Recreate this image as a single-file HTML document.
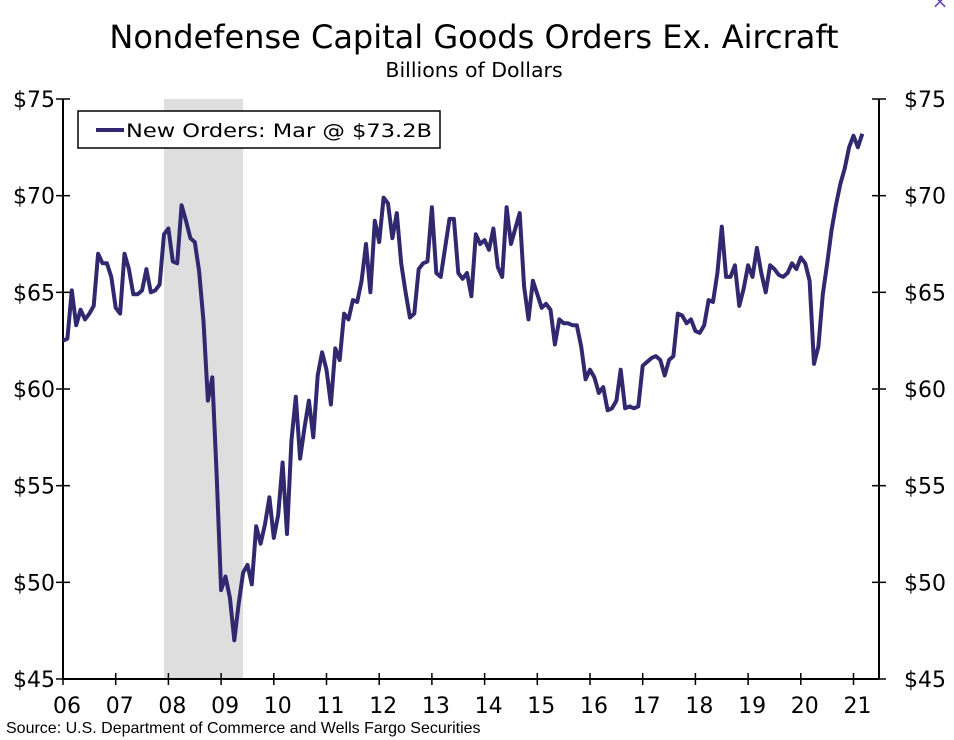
<!DOCTYPE html>
<html><head><meta charset="utf-8"><style>
body{margin:0;background:#fff;width:954px;height:740px;overflow:hidden;font-family:"DejaVu Sans","Liberation Sans",sans-serif;}
svg{display:block}
</style></head><body>
<svg width="954" height="740" id="chart">
<text x="474" y="48" text-anchor="middle" font-size="32" fill="#000">Nondefense Capital Goods Orders Ex. Aircraft</text>
<text x="474" y="77" text-anchor="middle" font-size="20.5" fill="#000">Billions of Dollars</text>
<text x="940" y="8" text-anchor="middle" font-size="20" fill="#6a4fb0">×</text>
<g id="plot"></g>
<text x="6" y="733" font-family="Liberation Sans, sans-serif" font-size="16" fill="#000">Source: U.S. Department of Commerce and Wells Fargo Securities</text>
</svg>
<script>
const years=["06","07","08","09","10","11","12","13","14","15","16","17","18","19","20","21"];
const yTicks=[45,50,55,60,65,70,75];
const orders=[
62.5,62.6,65.1,63.3,64.1,63.6,63.9,64.3,67.0,66.5,66.5,65.8,
64.2,63.9,67.0,66.2,64.9,64.9,65.1,66.2,65.0,65.1,65.4,68.0,
68.3,66.6,66.5,69.5,68.7,67.8,67.6,66.1,63.5,59.4,60.6,55.5,
49.6,50.3,49.2,47.0,48.9,50.5,50.9,49.9,52.9,52.0,53.0,54.4,
52.3,53.5,56.2,52.5,57.3,59.6,56.4,58.0,59.4,57.5,60.7,61.9,
61.0,59.2,62.1,61.5,63.9,63.6,64.6,64.5,65.6,67.5,65.0,68.7,
67.6,69.9,69.6,67.8,69.1,66.5,65.0,63.7,63.9,66.2,66.5,66.6,
69.4,66.0,65.8,67.3,68.8,68.8,66.0,65.7,66.0,64.8,68.0,67.5,
67.7,67.2,68.3,66.3,65.8,69.4,67.5,68.3,69.1,65.3,63.6,65.6,
64.9,64.2,64.4,64.1,62.3,63.6,63.4,63.4,63.3,63.3,62.2,60.5,
61.0,60.6,59.8,60.1,58.9,59.0,59.4,61.0,59.0,59.1,59.0,59.1,
61.2,61.4,61.6,61.7,61.5,60.7,61.5,61.7,63.9,63.8,63.4,63.6,
63.0,62.9,63.3,64.6,64.5,66.0,68.4,65.8,65.8,66.4,64.3,65.2,
66.4,65.8,67.3,66.0,65.0,66.4,66.2,65.9,65.8,66.0,66.5,66.2,
66.8,66.5,65.6,61.3,62.2,64.9,66.5,68.2,69.5,70.6,71.4,72.5,
73.1,72.5,73.2];
const recession=[23,41];
const L=63,R=879,T=99,B=679,YS=52.7;
const xm=i=>L+i*YS/12;
const yv=v=>B-(v-45)*(B-T)/30;
const NS='http://www.w3.org/2000/svg';
const g=document.getElementById('plot');
function mk(t,a){const e=document.createElementNS(NS,t);for(const k in a)e.setAttribute(k,a[k]);g.appendChild(e);return e;}
let r=mk('rect',{x:xm(recession[0]),y:T,width:xm(recession[1])-xm(recession[0]),height:B-T,fill:'#dedede'});


let a1=mk('line',{x1:L,y1:T,x2:L,y2:B,stroke:'#000','stroke-width':2});


let a2=mk('line',{x1:R,y1:T,x2:R,y2:B,stroke:'#000','stroke-width':2});


let a3=mk('line',{x1:L,y1:B,x2:R,y2:B,stroke:'#000','stroke-width':2});


yTicks.forEach(v=>{
 const y=yv(v);
 let t1=mk('line',{x1:L-7,y1:y,x2:L+7,y2:y,stroke:'#000','stroke-width':1.5});
 
 
 let t2=mk('line',{x1:R-7,y1:y,x2:R+7,y2:y,stroke:'#000','stroke-width':1.5});
 
 
 let l1=mk('text',{x:55,y:y+8,'text-anchor':'end','font-size':22,fill:'#000'});l1.textContent='$'+v;
 
 
 let l2=mk('text',{x:904,y:y+8,'font-size':22,fill:'#000'});l2.textContent='$'+v;
 
 
});
years.forEach((s,i)=>{
 const x=L+i*YS;
 let t=mk('line',{x1:x,y1:B-6,x2:x,y2:B+6,stroke:'#000','stroke-width':1.5});
 
 
 let l=mk('text',{x:x+4,y:713,'text-anchor':'middle','font-size':22,fill:'#000'});l.textContent=s;
 
 
});
let p=mk('polyline',{points:orders.map((v,i)=>xm(i).toFixed(1)+','+yv(v).toFixed(1)).join(' '),fill:'none',stroke:'#312870','stroke-width':4,'stroke-linejoin':'round'});


let lb=mk('rect',{x:78,y:111,width:362,height:37,fill:'#fff',stroke:'#000','stroke-width':1.5});


let ll=mk('line',{x1:96,y1:130,x2:124,y2:130,stroke:'#312870','stroke-width':4});


let lt=mk('text',{x:126,y:137,'font-size':19,fill:'#000',textLength:306,lengthAdjust:'spacingAndGlyphs'});lt.textContent='New Orders: Mar @ $73.2B';


</script>
</body></html>
